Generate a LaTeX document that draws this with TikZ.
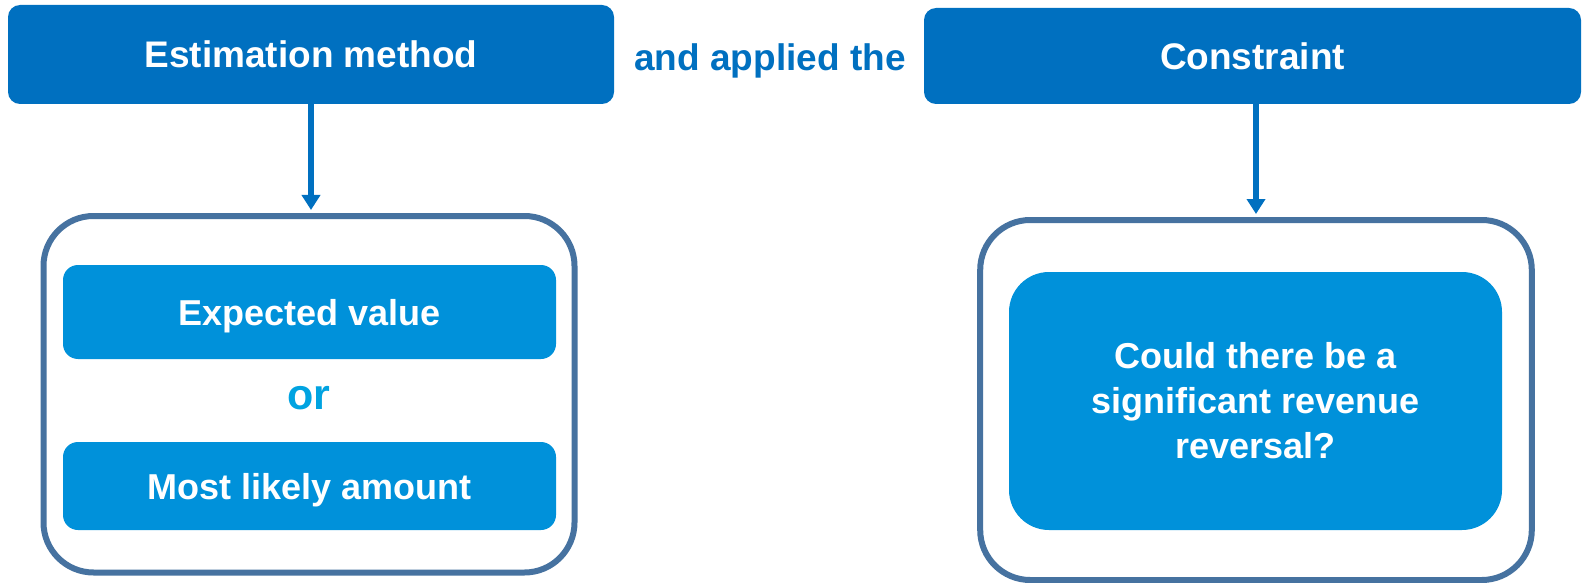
\documentclass[tikz,border=0pt]{standalone}
\usepackage{fontspec}
\setmainfont{Liberation Sans}
\usetikzlibrary{arrows.meta}
\definecolor{topblue}{HTML}{0070C0}
\definecolor{innerblue}{HTML}{0091DA}
\definecolor{orcyan}{HTML}{00A3E1}
\definecolor{framecol}{HTML}{4672A0}
\tikzset{
  topbox/.style={fill=topblue, draw=none, rounded corners=12pt, text=white, font=\fontsize{37}{43}\selectfont\bfseries, inner sep=0pt, text height=27pt, text depth=0pt},
  innerbox/.style={fill=innerblue, draw=none, text=white, font=\fontsize{36}{45}\selectfont\bfseries, inner sep=0pt, align=center},
  onelinetext/.style={text height=27pt, text depth=0pt},
  framebox/.style={draw=framecol, line width=6pt, rounded corners=50pt, fill=white, inner sep=0pt},
  arr/.style={draw=topblue, line width=6pt, -{Triangle[width=18pt,length=15pt]}},
  midtext/.style={font=\fontsize{37}{43}\selectfont\bfseries}
}
\begin{document}
\begin{tikzpicture}[x=1pt,y=-1pt]
\useasboundingbox[fill=white] (0,0) rectangle (1583,583);
% top boxes
\node[topbox, minimum width=606pt, minimum height=99pt] (est) at (311,54.5) {Estimation method};
\node[midtext, text=topblue, onelinetext] (applied) at (770,57) {and applied the};
\node[topbox, minimum width=657pt, minimum height=96pt] (con) at (1252.5,56) {Constraint};
% left frame
\node[framebox, minimum width=531pt, minimum height=356.5pt] (outerL) at (309,394.25) {};
\node[innerbox, onelinetext, rounded corners=15pt, minimum width=493pt, minimum height=94pt] (ev) at (309.5,312) {Expected value};
\node[text=orcyan, font=\fontsize{43}{48}\selectfont\bfseries] (or) at (309,398) {or};
\node[innerbox, onelinetext, rounded corners=15pt, minimum width=493pt, minimum height=88pt] (mla) at (309.5,486) {Most likely amount};
% right frame
\node[framebox, minimum width=551.6pt, minimum height=360pt] (outerR) at (1256,400) {};
\node[innerbox, rounded corners=40pt, minimum width=493pt, minimum height=258pt] (q) at (1255.5,401) {Could there be a\\significant revenue\\reversal?};
% arrows
\draw[arr] (est.south) -- ([yshift=3pt]est.south |- outerL.north);
\draw[arr] (outerR.north |- con.south) -- ([yshift=3pt]outerR.north);
\end{tikzpicture}
\end{document}
